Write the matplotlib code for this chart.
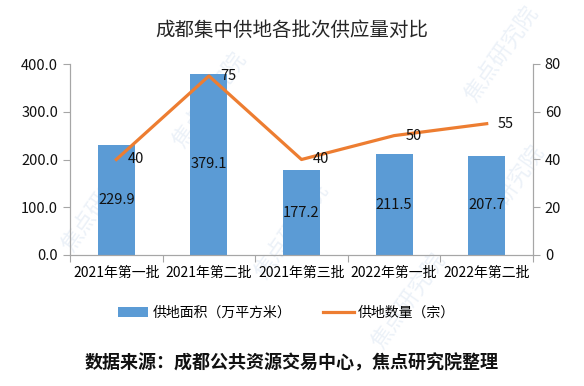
import matplotlib
matplotlib.use("Agg")
import matplotlib.pyplot as plt
import numpy as np

plt.rcParams['font.family'] = ['Noto Sans CJK SC', 'DejaVu Sans']

batches = ["2021年第一批", "2021年第二批", "2021年第三批", "2022年第一批", "2022年第二批"]
area = [229.9, 379.1, 177.2, 211.5, 207.7]   # 万平方米
count = [40, 75, 40, 50, 55]                  # 宗

blue = '#5B9BD5'
orange = '#ED7D31'
axis_gray = '#A6A6A6'

fig = plt.figure(figsize=(5.84, 3.86), dpi=100)
ax1 = fig.add_axes([70/584, 1-255/386, 463/584, 191/386])
ax2 = ax1.twinx()

x = np.arange(len(batches))
bars = ax1.bar(x, area, width=0.4, color=blue, label='供地面积（万平方米）', zorder=2)
ax1.set_ylim(0, 400)
ax1.set_yticks(np.arange(0, 401, 100))
ax1.set_yticklabels([f"{v:.1f}" for v in np.arange(0, 401, 100)])
ax1.set_xlim(-0.5, len(batches) - 0.5)

# category separators below the axis
ax1.set_xticks(np.arange(-0.5, len(batches), 1.0))
ax1.set_xticklabels([])
ax1.set_xticks(x, minor=True)
ax1.set_xticklabels(batches, minor=True, fontsize=10)
ax1.tick_params(axis='x', which='minor', length=0, pad=8)
ax1.tick_params(axis='x', which='major', length=5, color=axis_gray)

for v, xi in zip(area, x):
    ax1.text(xi, v / 2, f"{v:.1f}", ha='center', va='center', fontsize=10.5, color='#111111', zorder=5)

line, = ax2.plot(x, count, color=orange, linewidth=2.3, label='供地数量（宗）', zorder=3)
ax2.set_ylim(0, 80)
ax2.set_yticks(np.arange(0, 81, 20))
for v, xi in zip(count, x):
    ax2.text(xi + 0.12, v, f"{v}", ha='left', va='center', fontsize=10.5, color='#111111')

for ax in (ax1, ax2):
    ax.spines['top'].set_visible(False)
    for s in ('left', 'right', 'bottom'):
        ax.spines[s].set_color(axis_gray)
    ax.tick_params(axis='y', length=5, color=axis_gray, labelsize=10.5, labelcolor='#111111')
    ax.set_facecolor('none')
ax1.tick_params(axis='x', colors='#111111')
ax1.tick_params(axis='x', which='major', color=axis_gray)

# faint watermarks, drawn beneath the axes
marks = [(0.17, 0.47), (0.50, 0.40), (0.86, 0.86), (0.87, 0.50), (0.36, 0.74), (0.70, 0.22)]
for mx, my in marks:
    fig.text(mx, my, "焦点研究院", fontsize=16, style='italic', color='#C9D9EC',
             alpha=0.35, rotation=55, ha='center', va='center', zorder=-1)

fig.text(0.5, 1 - 30/386, "成都集中供地各批次供应量对比", ha='center', va='center',
         fontsize=14, color='#262626')

fig.legend(handles=[bars, line], loc='center', bbox_to_anchor=(0.49, 1 - 313/386),
           ncol=2, frameon=False, fontsize=10, handlelength=2.2, columnspacing=2.3,
           handletextpad=0.3)

fig.text(0.5, 1 - 363/386, "数据来源：成都公共资源交易中心，焦点研究院整理", ha='center',
         va='center', fontsize=13, fontweight='bold', color='#111111')

fig.savefig("out.png", dpi=100)
